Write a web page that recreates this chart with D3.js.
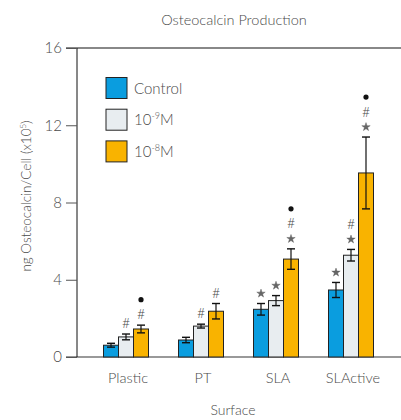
<!DOCTYPE html>
<html><head><meta charset="utf-8">
<script src="https://cdn.jsdelivr.net/npm/d3@7"></script>
<style>body{margin:0;background:#fff}svg{display:block;font-family:Lato,"Open Sans",sans-serif;font-weight:300}</style>
</head><body><svg id="c" width="401" height="420"></svg>
<script>
const categories = ["Plastic","PT","SLA","SLActive"];
const seriesNames = ["Control","10-9M","10-8M"];
const control = [0.61, 0.88, 2.47, 3.47];
const control_err = [0.10, 0.14, 0.30, 0.39];
const m9 = [1.04, 1.60, 2.92, 5.27];
const m9_err = [0.15, 0.10, 0.26, 0.30];
const m8 = [1.45, 2.37, 5.07, 9.53];
const m8_err = [0.20, 0.40, 0.53, 1.86];
const control_marks = ["", "", "*", "*"];
const m9_marks = ["#", "#", "*", "*#"];
const m8_marks = ["#•", "#", "*#•", "*#•"];
const yTicks = [0, 4, 8, 12, 16];
const colors = ["#0a9ddf", "#e8edf0", "#f9b300"];

const series = [
  {name: seriesNames[0], vals: control, errs: control_err, marks: control_marks},
  {name: seriesNames[1], vals: m9, errs: m9_err, marks: m9_marks},
  {name: seriesNames[2], vals: m8, errs: m8_err, marks: m8_marks}
];

const svg = d3.select("#c");
const y = d3.scaleLinear().domain([0,16]).range([357,48]);
const x = d3.scaleBand().domain(categories).range([88.5,388.5]).paddingInner(0.4).paddingOuter(0.2);
const xs = d3.scaleBand().domain([0,1,2]).range([0,x.bandwidth()]);
const txt = "#4a4a4a";
const star = d3.symbol(d3.symbolStar, 22)();

// title
svg.append("text").attr("x",234).attr("y",25).attr("text-anchor","middle")
  .attr("font-size",14.5).attr("fill",txt).text("Osteocalcin Production");

// top line
svg.append("line").attr("x1",66).attr("x2",401).attr("y1",y(16)).attr("y2",y(16))
  .attr("stroke","#888").attr("stroke-width",2);
// baseline
svg.append("line").attr("x1",66).attr("x2",401).attr("y1",y(0)).attr("y2",y(0))
  .attr("stroke","#777").attr("stroke-width",1.5);

// y axis
const yAxis = d3.axisLeft(y).tickValues(yTicks).tickSize(11).tickPadding(4);
const ga = svg.append("g").attr("transform","translate(77,0)").call(yAxis);
ga.select(".domain").attr("stroke","#111");
ga.selectAll(".tick line").attr("stroke","#555");
ga.selectAll(".tick text").attr("font-size",15).attr("fill",txt).attr("font-family","Lato,sans-serif");
ga.select(".domain").attr("d", `M0,${y(16)}V${y(0)}`);

// y title
const yt = svg.append("text").attr("transform",`translate(31,196) rotate(-90)`).attr("text-anchor","middle")
  .attr("font-size",13.5).attr("fill",txt).text("ng Osteocalcin/Cell (x10");
yt.append("tspan").attr("font-size",8).attr("dy",-5).text("5");
yt.append("tspan").attr("dy",5).text(")");

// x labels
svg.append("g").selectAll("text").data(categories).join("text")
  .attr("x",d=>x(d)+x.bandwidth()/2+2).attr("y",383).attr("text-anchor","middle")
  .attr("font-size",14.5).attr("fill",txt).text(d=>d);
svg.append("text").attr("x",233).attr("y",415).attr("text-anchor","middle")
  .attr("font-size",14).attr("fill",txt).text("Surface");

// bars
series.forEach((s,si)=>{
  const g = svg.append("g");
  const bx = c => x(c)+xs(si);
  g.selectAll("rect").data(categories).join("rect")
    .attr("x",c=>bx(c)).attr("width",xs.bandwidth())
    .attr("y",(c,i)=>y(s.vals[i])).attr("height",(c,i)=>y(0)-y(s.vals[i]))
    .attr("fill",colors[si]).attr("stroke","#222").attr("stroke-width",1);
  categories.forEach((c,i)=>{
    const cx = bx(c)+xs.bandwidth()/2;
    const t = y(s.vals[i]+s.errs[i]), b = y(s.vals[i]-s.errs[i]);
    g.append("line").attr("x1",cx).attr("x2",cx).attr("y1",t).attr("y2",b).attr("stroke","#111").attr("stroke-width",1.2);
    [t,b].forEach(yy=>g.append("line").attr("x1",cx-4).attr("x2",cx+4).attr("y1",yy).attr("y2",yy).attr("stroke","#111").attr("stroke-width",1.4));
    const marks = Array.from(s.marks[i]);
    marks.forEach((m,k)=>{
      const yc = t - 11 - k*14.5;
      if (m === "•") {
        g.append("circle").attr("cx",cx).attr("cy",yc).attr("r",2.6).attr("fill","#111");
      } else if (m === "*") {
        g.append("path").attr("d",star).attr("transform",`translate(${cx},${yc+1})`)
          .attr("fill","#666").attr("stroke","#555").attr("stroke-width",0.4);
      } else {
        g.append("text").attr("x",cx).attr("y", yc+5).attr("text-anchor","middle")
          .attr("font-size",14).attr("fill",txt).text(m);
      }
    });
  });
});

// legend
const leg = svg.append("g");
const labels = [["Control",null],["10","-9"],["10","-8"]];
labels.forEach((l,i)=>{
  const yy = 77.5 + i*31.7;
  leg.append("rect").attr("x",106).attr("y",yy).attr("width",21).attr("height",21)
    .attr("fill",colors[i]).attr("stroke","#222").attr("stroke-width",1);
  const t = leg.append("text").attr("x",134).attr("y",yy+16).attr("font-size",15).attr("fill",txt);
  if (l[1]===null) t.text(l[0]);
  else {
    t.text(l[0]);
    t.append("tspan").attr("font-size",9).attr("dy",-6).text(l[1]);
    t.append("tspan").attr("dy",6).text("M");
  }
});
</script></body></html>
